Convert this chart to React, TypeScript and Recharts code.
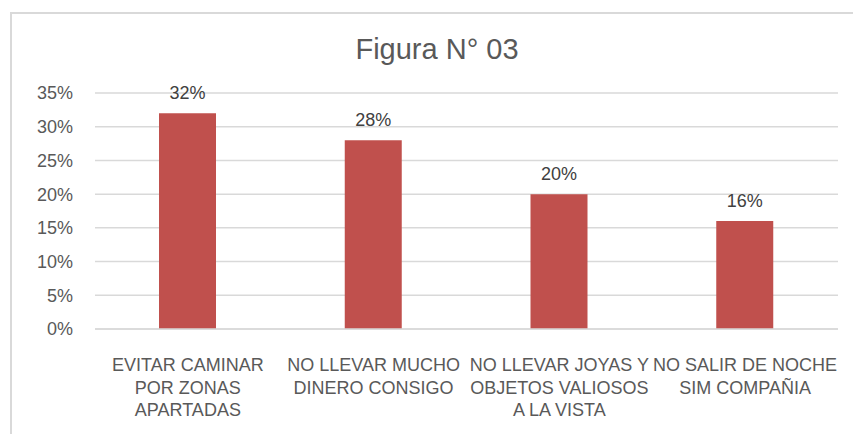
import { BarChart, Bar, XAxis, YAxis, CartesianGrid, LabelList } from "recharts";

const categories = [
  ["EVITAR CAMINAR", "POR ZONAS", "APARTADAS"],
  ["NO LLEVAR MUCHO", "DINERO CONSIGO"],
  ["NO LLEVAR JOYAS Y", "OBJETOS VALIOSOS", "A LA VISTA"],
  ["NO SALIR DE NOCHE", "SIM COMPAÑIA"],
];
const values = [32, 28, 20, 16];
const yTicks = [0, 5, 10, 15, 20, 25, 30, 35];

const data = categories.map((lines, i) => ({ name: lines.join("|"), value: values[i] }));

const FONT = "'Liberation Sans', Arial, sans-serif";

function CategoryTick(props: any) {
  const { x, y, payload } = props;
  const lines = String(payload.value).split("|");
  return (
    <text x={x} y={y} textAnchor="middle" fill="#595959" fontSize={18} fontFamily={FONT}>
      {lines.map((l, i) => (
        <tspan key={i} x={x} dy={i === 0 ? 34 : 22.5}>
          {l}
        </tspan>
      ))}
    </text>
  );
}

export default function App() {
  return (
    <div style={{ position: "absolute", left: 0, top: 0, width: 853, height: 434, overflow: "hidden", background: "#fff" }}>
      <div
        style={{
          position: "absolute",
          left: 10,
          top: 12,
          width: 852,
          height: 440,
          border: "2px solid #d9d9d9",
        }}
      />
      <div
        style={{
          position: "absolute",
          left: 10,
          width: 854,
          top: 31,
          textAlign: "center",
          fontFamily: FONT,
          fontSize: 29,
          color: "#595959",
          lineHeight: "36px",
        }}
      >
        Figura N° 03
      </div>
      <div style={{ position: "absolute", left: 0, top: 0 }}>
        <BarChart width={853} height={434} data={data} margin={{ top: 93, right: 15, bottom: 5, left: 35 }}>
          <CartesianGrid vertical={false} stroke="#d9d9d9" strokeWidth={1.5} />
          <XAxis
            dataKey="name"
            height={100}
            tickLine={false}
            axisLine={{ stroke: "#d9d9d9", strokeWidth: 1.5 }}
            tick={<CategoryTick />}
            interval={0}
          />
          <YAxis
            width={60}
            domain={[0, 35]}
            ticks={yTicks}
            tickFormatter={(v: number) => `${v}%`}
            axisLine={false}
            tickLine={false}
            tickSize={0}
            tickMargin={22}
            tick={{ fill: "#595959", fontSize: 18, fontFamily: FONT }}
          />
          <Bar dataKey="value" fill="#C0504D" barSize={57} isAnimationActive={false}>
            <LabelList
              dataKey="value"
              position="top"
              offset={14}
              formatter={(v: any) => `${v}%`}
              style={{ fill: "#404040", fontSize: 18, fontFamily: FONT }}
            />
          </Bar>
        </BarChart>
      </div>
    </div>
  );
}
